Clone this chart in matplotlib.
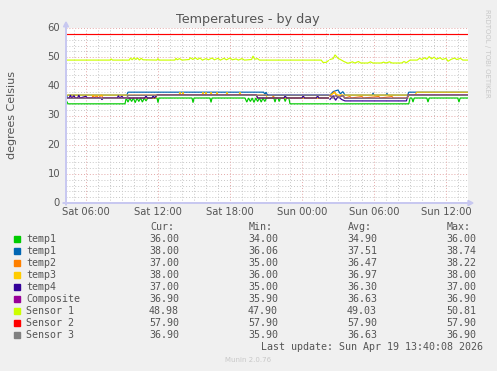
import numpy as np
import matplotlib
matplotlib.use("Agg")
import matplotlib.pyplot as plt

N = None
# times in hours since Sat 00:00
temp1_t = [4.33, 4.5, 9.25, 9.35, 9.5, 9.65, 9.8, 9.95, 10.1, 10.25, 10.4, 10.55, 10.7, 10.85, 11.0, 11.15,
           11.92, 12.0, 12.08, 14.83, 14.92, 15.0, 16.33, 16.42, 16.5,
           19.25, 19.4, 19.55, 19.7, 19.85, 20.0, 20.15, 20.3, 20.45, 20.6, 20.75, 20.9, 21.05,
           21.65, 21.75, 21.85, 22.0, 22.1, 22.2, 22.5, 22.6, 22.7, 22.9, 23.0, 26.2, 26.25, 26.33,
           32.9, 33.0, 33.15, 33.25, 33.35, 34.4, 34.5, 34.6, 36.98, 37.08, 37.18, 37.83]
temp1_v = [35.3, 34.0, 34.0, 36.0, 34.6, 36.0, 34.8, 36.0, 34.4, 36.0, 34.8, 36.0, 34.6, 36.0, 35.0, 36.0,
           36.0, 34.4, 36.0, 36.0, 34.4, 36.0, 36.0, 34.5, 36.0,
           36.0, 34.6, 36.0, 34.8, 36.0, 34.5, 36.0, 34.8, 36.0, 34.6, 36.0, 34.8, 36.0,
           36.0, 34.6, 36.0, 36.0, 34.8, 36.0, 36.0, 34.8, 36.0, 36.0, 34.0, 34.0, N, 34.0,
           34.0, 36.0, 36.0, 34.6, 36.0, 36.0, 34.6, 36.0, 36.0, 34.6, 36.0, 36.0]

temp1b_t = [4.33, 4.5, 9.4, 9.5, 20.8, 20.92, 21.0, 21.08, 21.2, 26.2, 26.25, 26.33, 26.6, 27.0, 27.2, 27.4,
            27.58, 29.85, 29.92, 30.0, 31.0, 31.08, 31.16, 32.8, 32.9, 37.83]
temp1b_v = [36.06, 37.0, 37.0, 38.0, 38.0, 37.2, 38.0, 37.3, 37.0, 37.0, N, 37.0, 38.2, 38.74, 37.4, 38.2,
            37.0, 37.0, 37.7, 37.0, 37.0, 37.6, 37.0, 37.0, 38.0, 38.0]

temp2_t = [4.33, 6.5, 6.6, 6.7, 6.9, 7.0, 7.3, 7.4, 11.8, 11.92, 20.2, 20.3, 21.5, 21.6, 21.75, 26.2, 26.25,
           26.33, 26.7, 26.9, 27.3, 27.58, 28.0, 28.1, 29.0, 29.1, 30.4, 30.5, 31.5, 31.6, 32.8, 32.9, 37.83]
temp2_v = [36.0, 36.0, 37.0, 36.0, 36.8, 36.0, 37.0, 36.0, 36.0, 37.0, 37.0, 36.0, 36.0, 36.6, 36.0, 36.0, N,
           36.5, 38.22, 36.5, 37.0, 36.0, 36.5, 36.0, 36.5, 36.0, 36.5, 36.0, 36.5, 36.0, 36.0, 37.0, 37.0]

temp3_t = [4.33, 13.75, 13.83, 13.92, 14.0, 14.08, 14.16, 15.67, 15.75, 15.83, 15.92, 16.0, 16.08, 16.34, 16.42,
           16.5, 16.84, 16.92, 17.0, 17.67, 17.75, 17.83, 18.75, 18.83, 18.91, 21.0, 21.1, 26.2, 26.25, 26.33,
           26.7, 27.0, 33.4, 33.58, 37.83]
temp3_v = [37.0, 37.0, 38.0, 37.0, 37.0, 38.0, 37.0, 37.0, 38.0, 37.0, 37.0, 38.0, 37.0, 37.0, 38.0,
           37.0, 37.0, 38.0, 37.0, 37.0, 38.0, 37.0, 37.0, 38.0, 37.0, 37.0, 36.0, 36.0, N, 37.0,
           37.8, 37.0, 37.0, 38.0, 38.0]

temp4_t = [4.33, 4.6, 4.7, 4.8, 5.0, 5.1, 5.3, 5.4, 5.5, 6.0, 6.1, 7.25, 7.33, 7.42, 8.6, 8.7, 8.8, 9.0, 9.1,
           10.9, 11.0, 11.1, 11.5, 11.6, 11.7, 11.92, 20.2, 20.3, 22.5, 22.6, 22.7, 24.0, 24.1, 24.2, 25.2,
           25.3, 25.4, 26.2, 26.25, 26.33, 26.6, 26.8, 27.0, 27.3, 27.58, 32.7, 32.83, 37.83]
temp4_v = [36.0, 36.0, 37.0, 36.0, 36.8, 36.0, 36.0, 37.0, 36.0, 36.6, 36.0, 36.0, 35.4, 36.0, 36.0, 36.8, 36.0, 36.6, 36.0,
           36.0, 36.8, 36.0, 36.0, 36.8, 36.0, 37.0, 37.0, 36.0, 36.0, 36.8, 36.0, 36.0, 36.8, 36.0, 36.0,
           36.8, 36.0, 36.0, N, 35.5, 36.8, 35.2, 36.5, 35.5, 35.0, 35.0, 37.0, 37.0]

sensor3_t = [4.33, 9.4, 9.5, 26.2, 26.25, 26.33, 26.6, 26.8, 27.1, 27.4, 27.58, 32.75, 32.83, 37.83]
sensor3_v = [35.9, 35.9, 36.9, 36.9, N, 36.9, 36.0, 36.9, 36.2, 36.9, 35.9, 35.9, 36.9, 36.9]
composite_t = list(sensor3_t)
composite_v = list(sensor3_v)

sensor1_t = [4.33, 8.0, 8.1, 8.2, 9.6, 9.7, 9.85, 10.0, 10.15, 10.3, 10.45, 10.6, 10.75, 11.9, 12.0, 12.1,
             13.4, 13.5, 13.6, 13.8, 14.0, 14.6, 14.7, 14.9, 15.1, 15.3, 15.5, 15.7, 16.0, 16.2, 16.5, 16.7,
             17.0, 17.2, 17.5, 17.7, 18.0, 18.2, 18.5, 18.7, 19.0, 19.2, 19.8, 19.92, 20.05, 20.3, 20.45,
             25.6, 25.75, 26.0, 26.2, 26.25, 26.33, 26.6, 26.75, 27.0, 27.2, 27.5, 27.83, 28.2, 28.4, 28.7,
             28.9, 29.5, 29.7, 29.9, 30.6, 30.8, 31.0, 31.3, 31.5, 32.3, 32.5, 32.7, 33.0, 33.6, 33.8, 34.0,
             34.2, 34.4, 34.6, 34.8, 35.0, 35.2, 35.5, 35.7, 36.0, 36.17, 36.4, 36.7, 36.9, 37.2, 37.4, 37.83]
sensor1_v = [49.0, 49.0, 49.4, 49.0, 49.0, 49.7, 49.1, 49.8, 49.2, 49.7, 49.0, 49.6, 49.1, 49.0, 49.5, 49.0,
             49.0, 49.6, 49.1, 49.5, 49.0, 49.2, 49.8, 49.2, 49.8, 49.2, 49.7, 49.0, 49.5, 49.1, 49.7, 49.1,
             49.6, 49.0, 49.6, 49.1, 49.7, 49.1, 49.4, 49.0, 49.5, 49.0, 49.2, 50.4, 49.3, 49.5, 49.0,
             49.0, 48.2, 48.2, 48.8, N, 49.2, 49.5, 50.8, 49.6, 49.2, 48.5, 47.9, 48.4, 48.0, 48.5,
             48.0, 48.0, 48.4, 48.0, 48.0, 48.3, 48.0, 48.4, 48.0, 48.0, 48.5, 48.1, 49.0, 49.0, 49.6, 49.2,
             49.8, 49.3, 50.2, 49.4, 50.0, 49.3, 49.8, 49.2, 49.6, 48.6, 49.2, 49.7, 49.2, 49.6, 49.0, 49.0]

sensor2_t = [4.33, 26.2, 26.25, 26.33, 37.83]
sensor2_v = [57.9, 57.9, N, 57.9, 57.9]

labels = ["temp1", "temp1", "temp2", "temp3", "temp4", "Composite", "Sensor 1", "Sensor 2", "Sensor 3"]
colors = ["#00cc00", "#0066b3", "#ff8000", "#ffcc00", "#330099", "#990099", "#ccff00", "#ff0000", "#808080"]
cur = ["36.00", "38.00", "37.00", "38.00", "37.00", "36.90", "48.98", "57.90", "36.90"]
mins = ["34.00", "36.06", "35.00", "36.00", "35.00", "35.90", "47.90", "57.90", "35.90"]
avgs = ["34.90", "37.51", "36.47", "36.97", "36.30", "36.63", "49.03", "57.90", "36.63"]
maxs = ["36.00", "38.74", "38.22", "38.00", "37.00", "36.90", "50.81", "57.90", "36.90"]
xtick_pos = [6, 12, 18, 24, 30, 36]
xtick_labels = ["Sat 06:00", "Sat 12:00", "Sat 18:00", "Sun 00:00", "Sun 06:00", "Sun 12:00"]
yticks = [0, 10, 20, 30, 40, 50, 60]

series = [(temp1_t, temp1_v), (temp1b_t, temp1b_v), (temp2_t, temp2_v), (temp3_t, temp3_v),
          (temp4_t, temp4_v), (composite_t, composite_v), (sensor1_t, sensor1_v),
          (sensor2_t, sensor2_v), (sensor3_t, sensor3_v)]

W, H = 497, 371
fig = plt.figure(figsize=(W / 100, H / 100), dpi=100)
fig.patch.set_facecolor("#f0f0f0")

def fx(px):
    return px / W

def fy(py):
    return 1 - py / H

L, R, T, B = 66, 468, 28, 203
ax = fig.add_axes([fx(L), fy(B), (R - L) / W, (B - T) / H])
ax.set_facecolor("white")
ax.set_xlim(4.333, 37.833)
ax.set_ylim(0, 60)
for s in ax.spines.values():
    s.set_visible(False)
ax.set_xticks([])
ax.set_yticks([])

# grid
for h in range(5, 38):
    if h % 6 == 0:
        continue
    ax.axvline(h, color="#c8c8c8", lw=0.7, ls=(0, (1, 2)), zorder=0)
for v in range(2, 60, 2):
    if v % 10 == 0:
        continue
    ax.axhline(v, color="#c8c8c8", lw=0.7, ls=(0, (1, 2)), zorder=0)
for h in xtick_pos:
    ax.axvline(h, color="#e4a8a8", lw=0.7, ls=(0, (1, 2)), zorder=0)
for v in yticks[1:]:
    ax.axhline(v, color="#e4a8a8", lw=0.7, ls=(0, (1, 2)), zorder=0)

for (t, v), c in zip(series, colors):
    vv = np.array([np.nan if x is None else x for x in v], dtype=float)
    ax.plot(t, vv, color=c, lw=0.85, solid_joinstyle="miter", zorder=2)

# axes lines with arrows
axcol = "#c8c8f0"
fig.add_artist(matplotlib.patches.FancyArrow(fx(L), fy(B + 2), 0, fy(22) - fy(B + 2), width=0.0012,
                                             head_width=0.010, head_length=0.013, color=axcol,
                                             length_includes_head=True, transform=fig.transFigure))
fig.add_artist(matplotlib.patches.FancyArrow(fx(L - 3), fy(B), fx(473) - fx(L - 3), 0, width=0.0016,
                                             head_width=0.014, head_length=0.010, color=axcol,
                                             length_includes_head=True, transform=fig.transFigure))

tcol = "#555555"
for p, lab in zip(xtick_pos, xtick_labels):
    ax.text(p, -1.5, lab, ha="center", va="top", fontsize=7.2, color=tcol, clip_on=False)
for v in yticks:
    ax.text(4.333 - 0.5, v, str(v), ha="right", va="center", fontsize=7.2, color=tcol, clip_on=False)

fig.text(fx(248), fy(19), "Temperatures - by day", ha="center", va="center", fontsize=9.2, color=tcol)
fig.text(fx(12), fy(115), "degrees Celsius", ha="center", va="center", rotation=90, fontsize=8, color=tcol)
fig.text(fx(487), fy(53), "RRDTOOL / TOBI OETIKER", ha="center", va="center", rotation=270,
         fontsize=5, color="#c8c8c8")

mono = "DejaVu Sans Mono"
fs = 7.2
col_x = [179, 278, 377, 476]
fig.text(fx(150), fy(227), "Cur:", ha="left", va="center", fontsize=fs, family=mono, color=tcol)
fig.text(fx(249), fy(227), "Min:", ha="left", va="center", fontsize=fs, family=mono, color=tcol)
fig.text(fx(348), fy(227), "Avg:", ha="left", va="center", fontsize=fs, family=mono, color=tcol)
fig.text(fx(447), fy(227), "Max:", ha="left", va="center", fontsize=fs, family=mono, color=tcol)
for i, lab in enumerate(labels):
    y = 239 + 12 * i
    fig.add_artist(matplotlib.patches.Rectangle((fx(14), fy(y + 3)), 6 / W, 6 / H, color=colors[i],
                                                transform=fig.transFigure))
    fig.text(fx(26), fy(y), lab, ha="left", va="center", fontsize=fs, family=mono, color=tcol)
    for xc, val in zip(col_x, (cur[i], mins[i], avgs[i], maxs[i])):
        fig.text(fx(xc), fy(y), val, ha="right", va="center", fontsize=fs, family=mono, color=tcol)
fig.text(fx(483), fy(347), "Last update: Sun Apr 19 13:40:08 2026", ha="right", va="center",
         fontsize=fs, family=mono, color=tcol)
fig.text(fx(248), fy(360), "Munin 2.0.76", ha="center", va="center", fontsize=5, color="#c8c8c8")

fig.savefig("out.png", dpi=100, facecolor=fig.get_facecolor())
